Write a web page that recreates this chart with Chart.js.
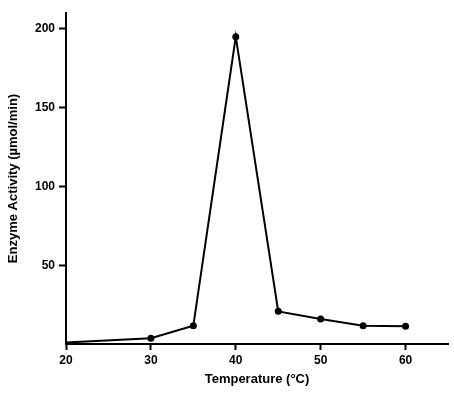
<!DOCTYPE html>
<html>
<head>
<meta charset="utf-8">
<script src="https://cdn.jsdelivr.net/npm/chart.js@4/dist/chart.umd.min.js"></script>
<style>
  html, body { margin: 0; padding: 0; background: #fff; }
  #wrap { width: 454px; height: 397px; }
</style>
</head>
<body>
<div id="wrap"><canvas id="chartTemp"></canvas></div>
<script>
// temperature (°C) vs activity
const temps = [20, 30, 35, 40, 45, 50, 55, 60];
const activity = [1, 3.6, 11.6, 195, 20.7, 15.8, 11.6, 11.2];
const xTicks = [20, 30, 40, 50, 60];
const yTicks = [50, 100, 150, 200];

const tickFont = { family: 'Liberation Sans', size: 12, weight: 'bold' };
const titleFont = { family: 'Liberation Sans', size: 13, weight: 'bold' };

const ctxTemp = document.getElementById('chartTemp').getContext('2d');
const chartTemp = new Chart(ctxTemp, {
    type: 'line',
    data: {
        datasets: [{
            data: temps.map((t, i) => ({ x: t, y: activity[i] })),
            borderColor: '#000',
            backgroundColor: '#000',
            borderWidth: 2,
            pointRadius: temps.map((t, i) => i === 0 ? 0 : 3.5),
            pointBorderWidth: 0,
            tension: 0,
            clip: false
        }]
    },
    options: {
        responsive: true,
        maintainAspectRatio: false,
        animation: false,
        layout: { padding: { top: 13, right: 6, left: 0, bottom: 0 } },
        plugins: { legend: { display: false }, tooltip: { enabled: false } },
        scales: {
            x: {
                type: 'linear',
                min: 20, max: 65,
                afterBuildTicks: s => { s.ticks = xTicks.map(v => ({ value: v })); },
                afterFit: s => { s.height = 53; },
                grid: { drawOnChartArea: false, tickLength: 6, tickWidth: 2, tickColor: '#000' },
                border: { color: '#000', width: 2 },
                ticks: { color: '#000', font: tickFont, padding: 3, maxRotation: 0 },
                title: {
                    display: true, text: 'Temperature (°C)', color: '#000',
                    font: titleFont, padding: { top: 4, bottom: 10 }
                }
            },
            y: {
                type: 'linear',
                min: 0, max: 210,
                afterBuildTicks: s => { s.ticks = yTicks.map(v => ({ value: v })); },
                afterFit: s => { s.width = 66; },
                grid: { drawOnChartArea: false, tickLength: 7, tickWidth: 2, tickColor: '#000' },
                border: { color: '#000', width: 2 },
                ticks: { color: '#000', font: tickFont, padding: 4 },
                title: {
                    display: true, text: 'Enzyme Activity (µmol/min)', color: '#000',
                    font: titleFont, padding: { top: 6, bottom: 4 }
                }
            }
        }
    }
});
</script>
</body>
</html>
